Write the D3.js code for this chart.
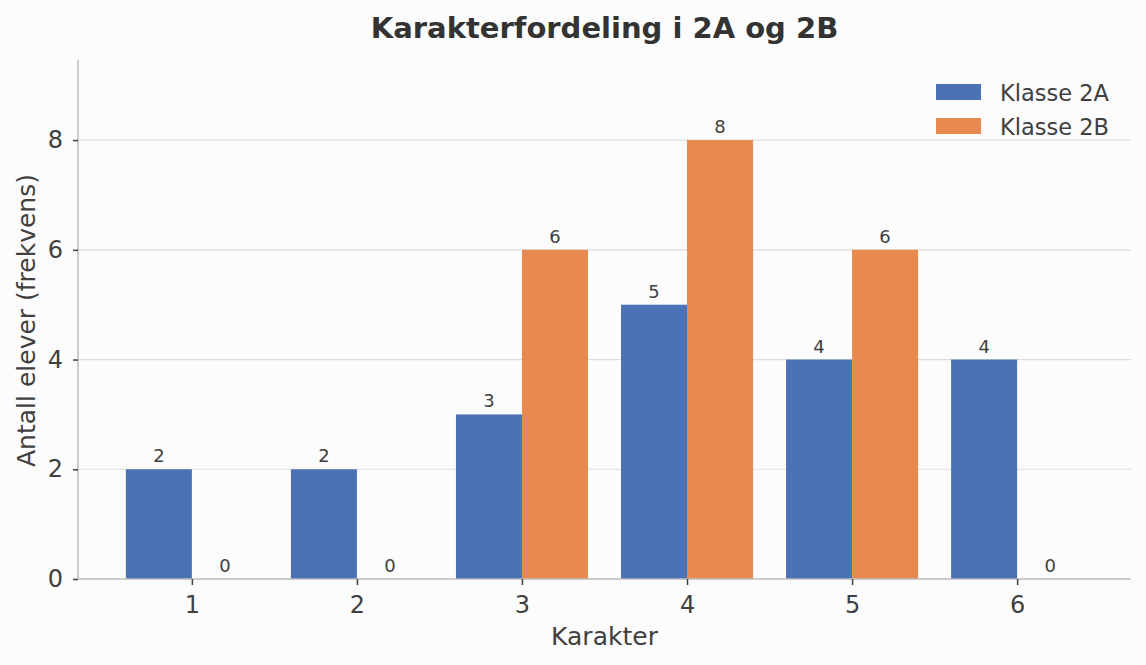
<!DOCTYPE html>
<html>
<head>
<meta charset="utf-8">
<script src="https://cdn.jsdelivr.net/npm/d3@7"></script>
<style>
  body { margin: 0; background: #fcfcfc; }
  svg { display: block; font-family: "DejaVu Sans", sans-serif; }
</style>
</head>
<body>
<svg id="chart" width="1146" height="665"></svg>
<script>
var grades = [1, 2, 3, 4, 5, 6];
var klasse2A = [2, 2, 3, 5, 4, 4];
var klasse2B = [0, 0, 6, 8, 6, 0];
var seriesNames = ['Klasse 2A', 'Klasse 2B'];
var yTicks = [0, 2, 4, 6, 8];

var colors = ['#4a72b5', '#e8894f'];
var svg = d3.select('#chart');
var margin = {left: 78, right: 15, top: 60, bottom: 86};
var width = 1146, height = 665;

var x = d3.scaleLinear()
    .domain([1 - 0.69, 6 + 0.69])
    .range([margin.left, width - margin.right]);
var y = d3.scaleLinear()
    .domain([0, 9.46])
    .range([height - margin.bottom, margin.top]);

var barW = x(1.4) - x(1);

// grid
svg.append('g').selectAll('line')
    .data(yTicks.filter(function(d) { return d > 0; }))
    .enter().append('line')
    .attr('x1', margin.left).attr('x2', width - margin.right)
    .attr('y1', function(d) { return y(d); })
    .attr('y2', function(d) { return y(d); })
    .style('stroke', '#dddddd').style('stroke-width', 1.2);

var series = [klasse2A, klasse2B];
series.forEach(function(vals, si) {
    var g = svg.append('g');
    g.selectAll('rect')
        .data(vals)
        .enter().append('rect')
        .attr('x', function(d, i) { return si === 0 ? x(grades[i]) - barW : x(grades[i]); })
        .attr('width', barW)
        .attr('y', function(d) { return y(d); })
        .attr('height', function(d) { return y(0) - y(d); })
        .style('fill', colors[si]);
    g.selectAll('text')
        .data(vals)
        .enter().append('text')
        .attr('x', function(d, i) { return (si === 0 ? x(grades[i]) - barW / 2 : x(grades[i]) + barW / 2); })
        .attr('y', function(d) { return y(d) - 7; })
        .attr('text-anchor', 'middle')
        .style('font-size', '18px')
        .style('fill', '#404040')
        .text(function(d) { return d; });
});

// axes
var xAxis = svg.append('g')
    .attr('transform', 'translate(0,' + y(0) + ')')
    .call(d3.axisBottom(x).tickValues(grades).tickSize(6).tickPadding(11).tickFormat(d3.format('d')));
var yAxis = svg.append('g')
    .attr('transform', 'translate(' + margin.left + ',0)')
    .call(d3.axisLeft(y).tickValues(yTicks).tickSize(5).tickPadding(10));

[xAxis, yAxis].forEach(function(a) {
    a.select('.domain').style('stroke', '#bdbdbd').style('stroke-width', 1.5);
    a.selectAll('.tick line').style('stroke', '#404040').style('stroke-width', 1.5);
    a.selectAll('.tick text').style('font-size', '24px').style('fill', '#404040')
        .style('font-family', '"DejaVu Sans", sans-serif');
});
xAxis.select('.domain').attr('d', 'M' + margin.left + ',0H' + (width - margin.right));
yAxis.select('.domain').attr('d', 'M0,' + y(0) + 'V' + margin.top);

// labels
svg.append('text')
    .attr('x', (margin.left + width - margin.right) / 2).attr('y', 38)
    .attr('text-anchor', 'middle')
    .style('font-size', '29px').style('font-weight', 'bold').style('fill', '#333333')
    .text('Karakterfordeling i 2A og 2B');
svg.append('text')
    .attr('x', (margin.left + width - margin.right) / 2).attr('y', 645)
    .attr('text-anchor', 'middle')
    .style('font-size', '25px').style('fill', '#404040')
    .text('Karakter');
svg.append('text')
    .attr('transform', 'translate(35,' + ((margin.top + y(0)) / 2 + 1) + ') rotate(-90)')
    .attr('text-anchor', 'middle')
    .style('font-size', '25px').style('fill', '#404040')
    .text('Antall elever (frekvens)');

// legend
var legend = svg.append('g').selectAll('g')
    .data(seriesNames)
    .enter().append('g')
    .attr('transform', function(d, i) { return 'translate(936,' + (84 + i * 34) + ')'; });
legend.append('rect')
    .attr('width', 45).attr('height', 16)
    .style('fill', function(d, i) { return colors[i]; });
legend.append('text')
    .attr('x', 64).attr('y', 17)
    .style('font-size', '22.5px').style('fill', '#404040')
    .text(function(d) { return d; });
</script>
</body>
</html>
